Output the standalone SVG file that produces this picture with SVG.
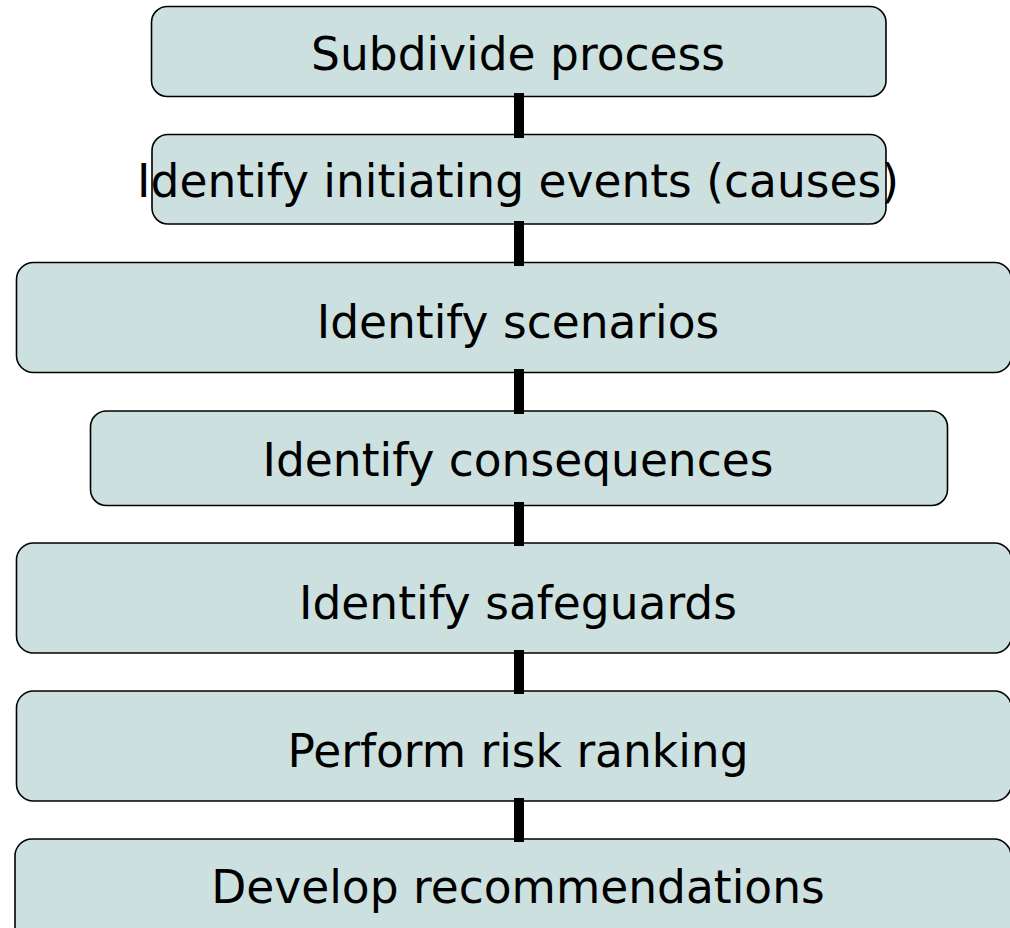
<svg xmlns="http://www.w3.org/2000/svg" width="1010" height="928" viewBox="0 0 1010 928">
<style>
.box{fill:#CCE0DF;stroke:#000;stroke-width:1.6}
.lbl{font-family:"DejaVu Sans","Verdana",sans-serif;font-size:45.5px;fill:#000;text-anchor:middle}
.con{stroke:#000;stroke-width:10;fill:none}
</style>
<rect width="1010" height="928" fill="#fff"/>
<g id="n1"><rect class="box" x="151.5" y="6.5" width="734.5" height="90" rx="16"/><text class="lbl" x="518" y="70">Subdivide process</text></g>
<g id="n2"><rect class="box" x="152" y="134.5" width="734" height="89.5" rx="16"/><text class="lbl" x="518" y="197">Identify initiating events (causes)</text></g>
<g id="n3"><rect class="box" x="16.5" y="262.5" width="995" height="110" rx="17"/><text class="lbl" x="518" y="338">Identify scenarios</text></g>
<g id="n4"><rect class="box" x="90.5" y="411" width="857" height="94.5" rx="16"/><text class="lbl" x="518" y="476">Identify consequences</text></g>
<g id="n5"><rect class="box" x="16.5" y="543" width="995" height="110" rx="17"/><text class="lbl" x="518" y="619">Identify safeguards</text></g>
<g id="n6"><rect class="box" x="16.5" y="691" width="995" height="110" rx="17"/><text class="lbl" x="518" y="767">Perform risk ranking</text></g>
<g id="n7"><rect class="box" x="15" y="839" width="996" height="110" rx="17"/><text class="lbl" x="518" y="903">Develop recommendations</text></g>
<g id="connectors">
<line class="con" x1="519" y1="93" x2="519" y2="138"/>
<line class="con" x1="519" y1="221" x2="519" y2="266"/>
<line class="con" x1="519" y1="369" x2="519" y2="414"/>
<line class="con" x1="519" y1="502" x2="519" y2="546"/>
<line class="con" x1="519" y1="650" x2="519" y2="694"/>
<line class="con" x1="519" y1="798" x2="519" y2="842"/>
</g>
</svg>
